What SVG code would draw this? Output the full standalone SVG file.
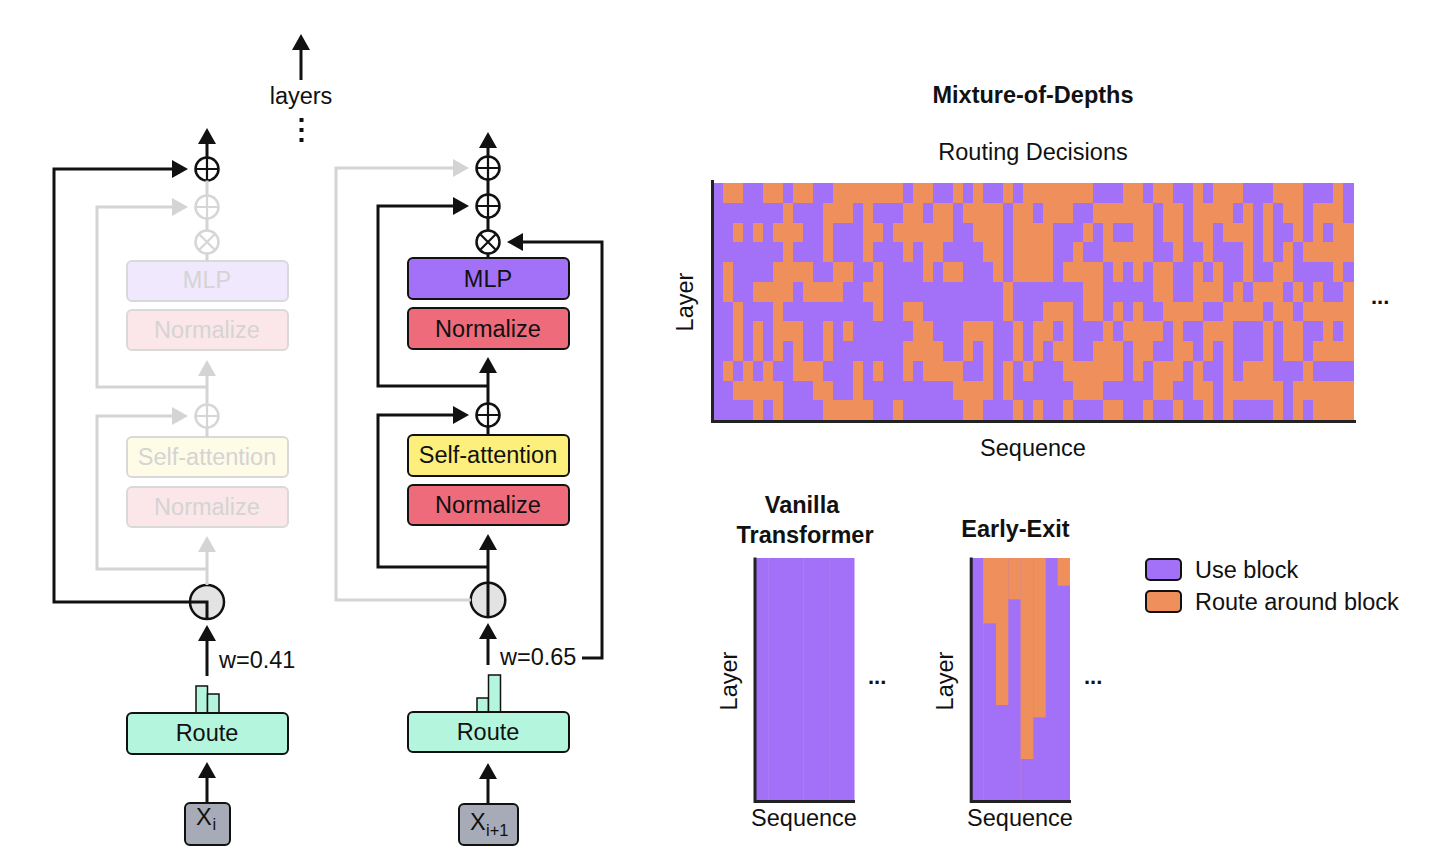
<svg xmlns="http://www.w3.org/2000/svg" width="1456" height="864" viewBox="0 0 1456 864">
<defs>
<style>
text{font-family:"Liberation Sans",Arial,Helvetica,sans-serif;fill:#111;}
.t{font-size:23.5px;text-anchor:middle;}
.s{font-size:23.5px;}
.b{font-weight:bold;}
.box{stroke:#111;stroke-width:2;}
.fbox{stroke:#d9d9d9;stroke-width:2;}
.ft{fill:#d4d4d4;}
.ln{fill:none;stroke:#111;stroke-width:3;}
.fl{fill:none;stroke:#d4d4d4;stroke-width:3;}
.op{fill:#fff;stroke:#111;stroke-width:2.5;}
.fop{fill:#fff;stroke:#d6d6d6;stroke-width:2.5;}
.sg{stroke:#111;stroke-width:2.2;fill:none;}
.fsg{stroke:#d6d6d6;stroke-width:2.2;fill:none;}
.o rect{fill:#ef8f5b;}
.pu{fill:#a371f7;}
.og{fill:#ef8f5b;}
.ax{stroke:#222;stroke-width:3;fill:none;}
.mint{fill:#b4f6dd;}
.dots{font-size:22px;font-weight:bold;}
</style>
<marker id="ah" viewBox="0 0 16 18" refX="11" refY="9" markerWidth="16" markerHeight="18" markerUnits="userSpaceOnUse" orient="auto"><path d="M0,0L16,9L0,18z" fill="#111"/></marker>
<marker id="ahg" viewBox="0 0 16 18" refX="11" refY="9" markerWidth="16" markerHeight="18" markerUnits="userSpaceOnUse" orient="auto"><path d="M0,0L16,9L0,18z" fill="#d4d4d4"/></marker>
</defs>
<rect width="1456" height="864" fill="#fff"/>

<!-- layers indicator -->
<g id="layers">
<text class="t" x="301" y="104">layers</text>
<rect x="299.5" y="118" width="4" height="4" fill="#111"/>
<rect x="299.5" y="128" width="4" height="4" fill="#111"/>
<rect x="299.5" y="138" width="4" height="4" fill="#111"/>
</g>

<!-- LEFT COLUMN (faded layer) -->
<g id="left-add-top"><circle class="op" cx="207" cy="169" r="11.5"/><path class="sg" d="M195.5,169h23M207,157.5v23"/></g>
<g id="left-add-mlp-faded"><circle class="fop" cx="207" cy="207" r="11.5"/><path class="fsg" d="M195.5,207h23M207,195.5v23"/></g>
<g id="left-mul-faded"><circle class="fop" cx="207" cy="242" r="11.5"/><path class="fsg" d="M199,234l16,16M215,234l-16,16"/></g>
<g id="left-mlp-faded"><rect class="fbox" x="127" y="261" width="161" height="40" rx="5" fill="#f0e8fd"/><text class="t ft" x="207" y="288">MLP</text></g>
<g id="left-norm2-faded"><rect class="fbox" x="127" y="310" width="161" height="40" rx="5" fill="#fbe7ea"/><text class="t ft" x="207" y="338">Normalize</text></g>
<g id="left-add-attn-faded"><circle class="fop" cx="207" cy="416" r="11.5"/><path class="fsg" d="M195.5,416h23M207,404.5v23"/></g>
<g id="left-attn-faded"><rect class="fbox" x="127" y="437" width="161" height="40" rx="5" fill="#fefbe7"/><text class="t ft" x="207" y="465">Self-attention</text></g>
<g id="left-norm1-faded"><rect class="fbox" x="127" y="487" width="161" height="40" rx="5" fill="#fbe7ea"/><text class="t ft" x="207" y="515">Normalize</text></g>
<g id="left-gate"><circle cx="207" cy="602" r="17" fill="#e3e3e3" stroke="#111" stroke-width="2.5"/></g>
<g id="left-route">
<rect x="196" y="686" width="11.5" height="27" class="mint" stroke="#111" stroke-width="1.5"/>
<rect x="207.5" y="694" width="11.5" height="19" class="mint" stroke="#111" stroke-width="1.5"/>
<rect class="box mint" x="127" y="713" width="161" height="41" rx="5"/>
<text class="t" x="207" y="741">Route</text>
</g>
<g id="left-x"><rect class="box" x="185" y="803" width="45" height="42" rx="5" fill="#a7aab7"/>
<text x="196" y="825" font-size="23.5">X</text><text x="212.5" y="830" font-size="16.5">i</text></g>
<text id="w041" class="s" x="219" y="668" font-size="22">w=0.41</text>

<!-- RIGHT COLUMN (active layer) -->
<g id="right-add-top"><circle class="op" cx="488" cy="168" r="11.5"/><path class="sg" d="M476.5,168h23M488,156.5v23"/></g>
<g id="right-add-mlp"><circle class="op" cx="488" cy="206" r="11.5"/><path class="sg" d="M476.5,206h23M488,194.5v23"/></g>
<g id="right-mul"><circle class="op" cx="488" cy="242" r="11.5"/><path class="sg" d="M480,234l16,16M496,234l-16,16"/></g>
<g id="right-mlp"><rect class="box" x="408" y="258" width="161" height="41" rx="5" fill="#a371f7"/><text class="t" x="488" y="287">MLP</text></g>
<g id="right-norm2"><rect class="box" x="408" y="308" width="161" height="41" rx="5" fill="#ed6b7b"/><text class="t" x="488" y="337">Normalize</text></g>
<g id="right-add-attn"><circle class="op" cx="488" cy="415" r="11.5"/><path class="sg" d="M476.5,415h23M488,403.5v23"/></g>
<g id="right-attn"><rect class="box" x="408" y="435" width="161" height="41" rx="5" fill="#fcef7c"/><text class="t" x="488" y="463">Self-attention</text></g>
<g id="right-norm1"><rect class="box" x="408" y="485" width="161" height="40" rx="5" fill="#ed6b7b"/><text class="t" x="488" y="513">Normalize</text></g>
<g id="right-gate"><circle cx="488" cy="600" r="17.3" fill="#e3e3e3" stroke="#111" stroke-width="2.5"/></g>
<g id="right-route">
<rect x="477" y="698" width="11.5" height="14" class="mint" stroke="#111" stroke-width="1.5"/>
<rect x="488.5" y="675" width="12" height="37" class="mint" stroke="#111" stroke-width="1.5"/>
<rect class="box mint" x="408" y="712" width="161" height="40" rx="5"/>
<text class="t" x="488" y="740">Route</text>
</g>
<g id="right-x"><rect class="box" x="459" y="804" width="59" height="41" rx="5" fill="#a7aab7"/>
<text x="470" y="830" font-size="23.5">X</text><text x="486" y="836" font-size="16.5">i+1</text></g>
<text id="w065" class="s" x="500" y="665" font-size="22">w=0.65</text>

<!-- CONNECTORS -->
<g id="connectors">
<path class="fl" d="M207,180.5V195.5M207,218.5V230.5M207,253.5V261M207,427.5V437"/>
<path class="fl" d="M207,403.5V365" marker-end="url(#ahg)"/>
<path class="fl" d="M207,387H97V207H183" marker-end="url(#ahg)"/>
<path class="fl" d="M207,585V541" marker-end="url(#ahg)"/>
<path class="fl" d="M207,569H97V416H183" marker-end="url(#ahg)"/>
<path class="fl" d="M471,600H336V168H464" marker-end="url(#ahg)"/>
<path class="ln" d="M207,157.5V133" marker-end="url(#ah)"/>
<path class="ln" d="M207,619V602H54V169H183" marker-end="url(#ah)"/>
<path class="ln" d="M207,676V630" marker-end="url(#ah)"/>
<path class="ln" d="M207,803V767" marker-end="url(#ah)"/>
<path class="ln" d="M301,80V39" marker-end="url(#ah)"/>
<path class="ln" d="M488,179.5V194.5M488,217.5V230.5M488,253.5V258M488,426.5V435"/>
<path class="ln" d="M488,156.5V137" marker-end="url(#ah)"/>
<path class="ln" d="M488,386H378V206H464" marker-end="url(#ah)"/>
<path class="ln" d="M488,403.5V362" marker-end="url(#ah)"/>
<path class="ln" d="M488,567H378V415H464" marker-end="url(#ah)"/>
<path class="ln" d="M488,617.5V539" marker-end="url(#ah)"/>
<path class="ln" d="M488,665V628" marker-end="url(#ah)"/>
<path class="ln" d="M582,658H602V242H512" marker-end="url(#ah)"/>
<path class="ln" d="M488,804V768" marker-end="url(#ah)"/>
</g>

<!-- MAIN HEATMAP -->
<g id="mod-heatmap" shape-rendering="crispEdges">
<rect class="pu" x="713" y="183" width="641" height="237"/>
<g class="o">
<rect x="723" y="183" width="20" height="20"/><rect x="763" y="183" width="20" height="20"/><rect x="793" y="183" width="20" height="20"/><rect x="833" y="183" width="70" height="20"/><rect x="913" y="183" width="20" height="20"/><rect x="953" y="183" width="10" height="20"/><rect x="973" y="183" width="10" height="20"/><rect x="1003" y="183" width="10" height="20"/><rect x="1023" y="183" width="70" height="20"/><rect x="1123" y="183" width="20" height="20"/><rect x="1153" y="183" width="20" height="20"/><rect x="1193" y="183" width="10" height="20"/><rect x="1213" y="183" width="30" height="20"/><rect x="1273" y="183" width="30" height="20"/><rect x="1333" y="183" width="10" height="20"/>
<rect x="783" y="203" width="10" height="20"/><rect x="823" y="203" width="30" height="20"/><rect x="863" y="203" width="10" height="20"/><rect x="903" y="203" width="20" height="20"/><rect x="933" y="203" width="20" height="20"/><rect x="963" y="203" width="40" height="20"/><rect x="1013" y="203" width="20" height="20"/><rect x="1043" y="203" width="30" height="20"/><rect x="1093" y="203" width="60" height="20"/><rect x="1163" y="203" width="20" height="20"/><rect x="1193" y="203" width="40" height="20"/><rect x="1243" y="203" width="10" height="20"/><rect x="1263" y="203" width="10" height="20"/><rect x="1283" y="203" width="20" height="20"/><rect x="1313" y="203" width="30" height="20"/>
<rect x="733" y="223" width="10" height="19"/><rect x="753" y="223" width="10" height="19"/><rect x="773" y="223" width="30" height="19"/><rect x="823" y="223" width="10" height="19"/><rect x="863" y="223" width="20" height="19"/><rect x="893" y="223" width="60" height="19"/><rect x="973" y="223" width="30" height="19"/><rect x="1013" y="223" width="40" height="19"/><rect x="1083" y="223" width="10" height="19"/><rect x="1103" y="223" width="10" height="19"/><rect x="1133" y="223" width="20" height="19"/><rect x="1163" y="223" width="20" height="19"/><rect x="1193" y="223" width="20" height="19"/><rect x="1223" y="223" width="30" height="19"/><rect x="1263" y="223" width="10" height="19"/><rect x="1293" y="223" width="10" height="19"/><rect x="1313" y="223" width="10" height="19"/><rect x="1333" y="223" width="21" height="19"/>
<rect x="783" y="242" width="10" height="20"/><rect x="823" y="242" width="10" height="20"/><rect x="863" y="242" width="10" height="20"/><rect x="903" y="242" width="10" height="20"/><rect x="923" y="242" width="20" height="20"/><rect x="983" y="242" width="20" height="20"/><rect x="1013" y="242" width="40" height="20"/><rect x="1073" y="242" width="10" height="20"/><rect x="1103" y="242" width="50" height="20"/><rect x="1173" y="242" width="10" height="20"/><rect x="1203" y="242" width="10" height="20"/><rect x="1243" y="242" width="10" height="20"/><rect x="1263" y="242" width="10" height="20"/><rect x="1283" y="242" width="10" height="20"/><rect x="1303" y="242" width="51" height="20"/>
<rect x="723" y="262" width="10" height="20"/><rect x="773" y="262" width="40" height="20"/><rect x="833" y="262" width="20" height="20"/><rect x="873" y="262" width="10" height="20"/><rect x="923" y="262" width="10" height="20"/><rect x="943" y="262" width="20" height="20"/><rect x="993" y="262" width="10" height="20"/><rect x="1013" y="262" width="40" height="20"/><rect x="1063" y="262" width="40" height="20"/><rect x="1113" y="262" width="10" height="20"/><rect x="1133" y="262" width="10" height="20"/><rect x="1153" y="262" width="20" height="20"/><rect x="1193" y="262" width="10" height="20"/><rect x="1213" y="262" width="10" height="20"/><rect x="1243" y="262" width="10" height="20"/><rect x="1273" y="262" width="20" height="20"/><rect x="1333" y="262" width="10" height="20"/>
<rect x="723" y="282" width="10" height="20"/><rect x="753" y="282" width="40" height="20"/><rect x="803" y="282" width="40" height="20"/><rect x="863" y="282" width="20" height="20"/><rect x="1003" y="282" width="10" height="20"/><rect x="1083" y="282" width="20" height="20"/><rect x="1153" y="282" width="20" height="20"/><rect x="1193" y="282" width="30" height="20"/><rect x="1233" y="282" width="10" height="20"/><rect x="1253" y="282" width="30" height="20"/><rect x="1293" y="282" width="10" height="20"/><rect x="1313" y="282" width="10" height="20"/><rect x="1343" y="282" width="11" height="20"/>
<rect x="733" y="302" width="10" height="19"/><rect x="773" y="302" width="10" height="19"/><rect x="873" y="302" width="10" height="19"/><rect x="903" y="302" width="20" height="19"/><rect x="1003" y="302" width="10" height="19"/><rect x="1043" y="302" width="30" height="19"/><rect x="1083" y="302" width="20" height="19"/><rect x="1113" y="302" width="10" height="19"/><rect x="1133" y="302" width="10" height="19"/><rect x="1163" y="302" width="40" height="19"/><rect x="1223" y="302" width="40" height="19"/><rect x="1273" y="302" width="20" height="19"/><rect x="1303" y="302" width="51" height="19"/>
<rect x="733" y="321" width="10" height="20"/><rect x="753" y="321" width="10" height="20"/><rect x="773" y="321" width="30" height="20"/><rect x="823" y="321" width="10" height="20"/><rect x="843" y="321" width="10" height="20"/><rect x="913" y="321" width="20" height="20"/><rect x="963" y="321" width="30" height="20"/><rect x="1013" y="321" width="10" height="20"/><rect x="1033" y="321" width="20" height="20"/><rect x="1063" y="321" width="10" height="20"/><rect x="1103" y="321" width="10" height="20"/><rect x="1123" y="321" width="40" height="20"/><rect x="1173" y="321" width="10" height="20"/><rect x="1203" y="321" width="30" height="20"/><rect x="1263" y="321" width="10" height="20"/><rect x="1283" y="321" width="20" height="20"/><rect x="1323" y="321" width="10" height="20"/><rect x="1343" y="321" width="11" height="20"/>
<rect x="733" y="341" width="10" height="20"/><rect x="753" y="341" width="10" height="20"/><rect x="773" y="341" width="10" height="20"/><rect x="793" y="341" width="10" height="20"/><rect x="823" y="341" width="10" height="20"/><rect x="903" y="341" width="40" height="20"/><rect x="963" y="341" width="10" height="20"/><rect x="983" y="341" width="10" height="20"/><rect x="1013" y="341" width="10" height="20"/><rect x="1033" y="341" width="10" height="20"/><rect x="1053" y="341" width="20" height="20"/><rect x="1093" y="341" width="30" height="20"/><rect x="1133" y="341" width="20" height="20"/><rect x="1173" y="341" width="20" height="20"/><rect x="1203" y="341" width="10" height="20"/><rect x="1223" y="341" width="10" height="20"/><rect x="1263" y="341" width="10" height="20"/><rect x="1283" y="341" width="20" height="20"/><rect x="1313" y="341" width="41" height="20"/>
<rect x="723" y="361" width="10" height="20"/><rect x="743" y="361" width="10" height="20"/><rect x="763" y="361" width="10" height="20"/><rect x="793" y="361" width="30" height="20"/><rect x="853" y="361" width="10" height="20"/><rect x="873" y="361" width="10" height="20"/><rect x="903" y="361" width="10" height="20"/><rect x="923" y="361" width="40" height="20"/><rect x="983" y="361" width="10" height="20"/><rect x="1003" y="361" width="10" height="20"/><rect x="1023" y="361" width="10" height="20"/><rect x="1063" y="361" width="60" height="20"/><rect x="1133" y="361" width="10" height="20"/><rect x="1153" y="361" width="30" height="20"/><rect x="1193" y="361" width="10" height="20"/><rect x="1223" y="361" width="10" height="20"/><rect x="1243" y="361" width="30" height="20"/><rect x="1303" y="361" width="10" height="20"/>
<rect x="733" y="381" width="50" height="19"/><rect x="813" y="381" width="20" height="19"/><rect x="853" y="381" width="10" height="19"/><rect x="953" y="381" width="40" height="19"/><rect x="1003" y="381" width="10" height="19"/><rect x="1073" y="381" width="30" height="19"/><rect x="1153" y="381" width="20" height="19"/><rect x="1193" y="381" width="20" height="19"/><rect x="1223" y="381" width="60" height="19"/><rect x="1293" y="381" width="61" height="19"/>
<rect x="753" y="400" width="10" height="20"/><rect x="773" y="400" width="10" height="20"/><rect x="823" y="400" width="50" height="20"/><rect x="893" y="400" width="10" height="20"/><rect x="963" y="400" width="20" height="20"/><rect x="1013" y="400" width="10" height="20"/><rect x="1033" y="400" width="10" height="20"/><rect x="1063" y="400" width="10" height="20"/><rect x="1103" y="400" width="20" height="20"/><rect x="1143" y="400" width="10" height="20"/><rect x="1173" y="400" width="10" height="20"/><rect x="1203" y="400" width="10" height="20"/><rect x="1223" y="400" width="10" height="20"/><rect x="1273" y="400" width="10" height="20"/><rect x="1293" y="400" width="10" height="20"/><rect x="1313" y="400" width="41" height="20"/>
</g>
<path class="ax" d="M712,180V421.5H1356"/>
</g>
<g id="mod-labels">
<text class="t b" x="1033" y="103">Mixture-of-Depths</text>
<text class="t" x="1033" y="160">Routing Decisions</text>
<text class="t" x="1033" y="456">Sequence</text>
<text class="t" x="693" y="302" transform="rotate(-90 693 302)">Layer</text>
<text class="dots" x="1371" y="304">...</text>
</g>

<!-- VANILLA -->
<g id="vanilla">
<rect class="pu" x="755" y="558" width="99.5" height="243"/>
<path d="M768.5,558V801M803.5,558V801M830,558V801" stroke="#b48ff6" stroke-width="0.8" opacity="0.45"/>
<path class="ax" d="M755,557.5V801.5H855"/>
<text class="t b" x="802" y="513">Vanilla</text>
<text class="t b" x="805" y="543">Transformer</text>
<text class="t" x="737" y="681" transform="rotate(-90 737 681)">Layer</text>
<text class="t" x="804" y="826">Sequence</text>
<text class="dots" x="868" y="684">...</text>
</g>

<!-- EARLY EXIT -->
<g id="early-exit">
<rect class="pu" x="971" y="558" width="99" height="243"/>
<rect class="og" x="983.3" y="558" width="12.7" height="65.3"/>
<rect class="og" x="996" y="558" width="12.3" height="147"/>
<rect class="og" x="1008.3" y="558" width="12.4" height="41.3"/>
<rect class="og" x="1020.7" y="558" width="12.6" height="201"/>
<rect class="og" x="1033.3" y="558" width="12.4" height="159.3"/>
<rect class="og" x="1057.7" y="558" width="12.3" height="27.7"/>
<path d="M983.5,558V801M1020.7,558V801" stroke="#f4a87a" stroke-width="0.6" opacity="0.3"/>
<path class="ax" d="M971.2,557.5V801.5H1071"/>
<text class="t b" x="1015.5" y="537">Early-Exit</text>
<text class="t" x="953" y="681" transform="rotate(-90 953 681)">Layer</text>
<text class="t" x="1020" y="826">Sequence</text>
<text class="dots" x="1084" y="684">...</text>
</g>

<!-- LEGEND -->
<g id="legend">
<rect x="1146" y="559" width="35" height="21" rx="4" fill="#a371f7" stroke="#111" stroke-width="2"/>
<rect x="1146" y="591" width="35" height="21" rx="4" fill="#ef8f5b" stroke="#111" stroke-width="2"/>
<text class="s" x="1195" y="578">Use block</text>
<text class="s" x="1195" y="610">Route around block</text>
</g>
</svg>
